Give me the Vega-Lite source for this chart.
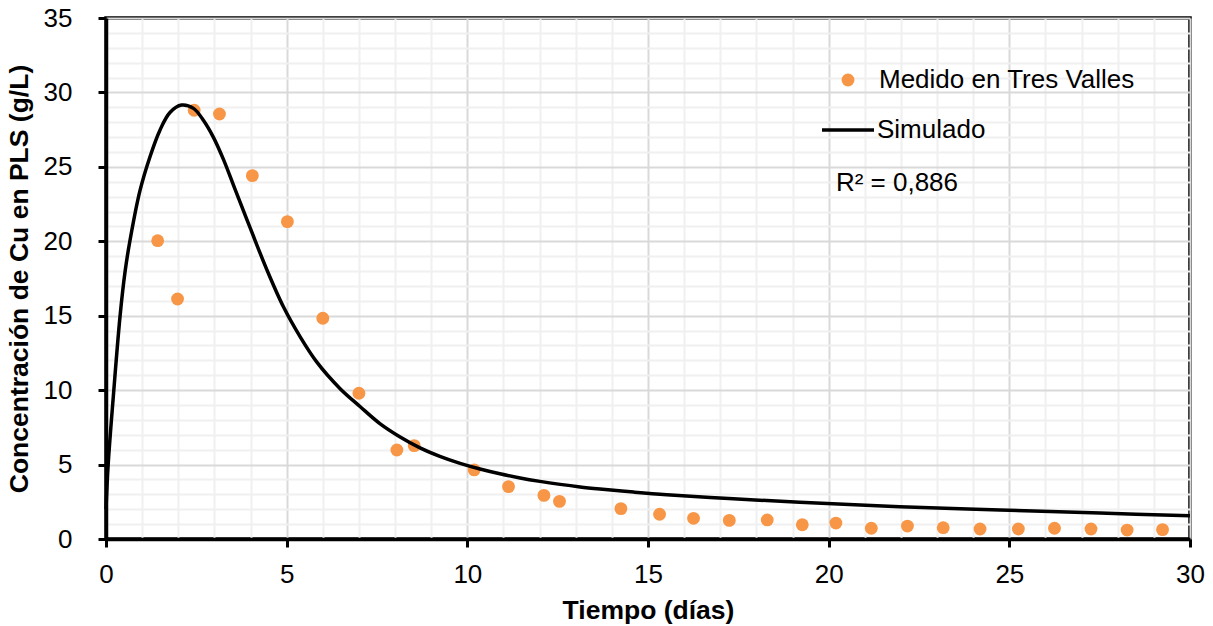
{
  "$schema": "https://vega.github.io/schema/vega-lite/v6.json",
  "width": 1084,
  "height": 521,
  "autosize": {"type": "none"},
  "padding": {"left": 106, "top": 18, "right": 23, "bottom": 87},
  "background": "white",
  "config": {
    "font": "Liberation Sans",
    "view": {"stroke": "black", "strokeWidth": 3.5},
    "axis": {
      "domainColor": "black",
      "domainWidth": 3.5,
      "labelFont": "Liberation Sans",
      "labelFontSize": 26,
      "labelColor": "black",
      "labelFlush": false,
      "labelOverlap": false,
      "labelLimit": 300,
      "tickColor": "black",
      "tickWidth": 3,
      "tickSize": 8,
      "gridWidth": 2,
      "titleFont": "Liberation Sans",
      "titleFontSize": 26.5,
      "titleFontWeight": "bold",
      "titleColor": "black"
    }
  },
  "datasets": {
    "medido": [
      {"t": 1.43, "c": 20.04, "serie": "Medido en Tres Valles"},
      {"t": 1.98, "c": 16.12, "serie": "Medido en Tres Valles"},
      {"t": 2.44, "c": 28.8, "serie": "Medido en Tres Valles"},
      {"t": 3.14, "c": 28.55, "serie": "Medido en Tres Valles"},
      {"t": 4.05, "c": 24.41, "serie": "Medido en Tres Valles"},
      {"t": 5.02, "c": 21.32, "serie": "Medido en Tres Valles"},
      {"t": 6.0, "c": 14.83, "serie": "Medido en Tres Valles"},
      {"t": 7.0, "c": 9.79, "serie": "Medido en Tres Valles"},
      {"t": 8.05, "c": 5.98, "serie": "Medido en Tres Valles"},
      {"t": 8.53, "c": 6.27, "serie": "Medido en Tres Valles"},
      {"t": 10.19, "c": 4.64, "serie": "Medido en Tres Valles"},
      {"t": 11.14, "c": 3.52, "serie": "Medido en Tres Valles"},
      {"t": 12.12, "c": 2.93, "serie": "Medido en Tres Valles"},
      {"t": 12.55, "c": 2.53, "serie": "Medido en Tres Valles"},
      {"t": 14.25, "c": 2.04, "serie": "Medido en Tres Valles"},
      {"t": 15.32, "c": 1.66, "serie": "Medido en Tres Valles"},
      {"t": 16.26, "c": 1.39, "serie": "Medido en Tres Valles"},
      {"t": 17.25, "c": 1.25, "serie": "Medido en Tres Valles"},
      {"t": 18.3, "c": 1.28, "serie": "Medido en Tres Valles"},
      {"t": 19.27, "c": 0.96, "serie": "Medido en Tres Valles"},
      {"t": 20.2, "c": 1.07, "serie": "Medido en Tres Valles"},
      {"t": 21.18, "c": 0.72, "serie": "Medido en Tres Valles"},
      {"t": 22.18, "c": 0.87, "serie": "Medido en Tres Valles"},
      {"t": 23.17, "c": 0.76, "serie": "Medido en Tres Valles"},
      {"t": 24.19, "c": 0.67, "serie": "Medido en Tres Valles"},
      {"t": 25.25, "c": 0.67, "serie": "Medido en Tres Valles"},
      {"t": 26.25, "c": 0.72, "serie": "Medido en Tres Valles"},
      {"t": 27.26, "c": 0.67, "serie": "Medido en Tres Valles"},
      {"t": 28.26, "c": 0.6, "serie": "Medido en Tres Valles"},
      {"t": 29.24, "c": 0.63, "serie": "Medido en Tres Valles"}
    ],
    "simulado": [
      {"t": 0, "c": 2.0, "serie": "Simulado"},
      {"t": 0.06, "c": 5.0, "serie": "Simulado"},
      {"t": 0.2, "c": 9.5, "serie": "Simulado"},
      {"t": 0.39, "c": 15.0, "serie": "Simulado"},
      {"t": 0.53, "c": 18.0, "serie": "Simulado"},
      {"t": 0.66, "c": 20.0, "serie": "Simulado"},
      {"t": 0.94, "c": 23.4, "serie": "Simulado"},
      {"t": 1.22, "c": 25.7, "serie": "Simulado"},
      {"t": 1.49, "c": 27.45, "serie": "Simulado"},
      {"t": 1.77, "c": 28.65, "serie": "Simulado"},
      {"t": 2.09, "c": 29.15, "serie": "Simulado"},
      {"t": 2.42, "c": 28.93, "serie": "Simulado"},
      {"t": 2.69, "c": 28.15, "serie": "Simulado"},
      {"t": 2.97, "c": 27.0, "serie": "Simulado"},
      {"t": 3.25, "c": 25.5, "serie": "Simulado"},
      {"t": 3.57, "c": 23.5, "serie": "Simulado"},
      {"t": 3.99, "c": 20.9, "serie": "Simulado"},
      {"t": 4.45, "c": 18.1, "serie": "Simulado"},
      {"t": 4.91, "c": 15.6, "serie": "Simulado"},
      {"t": 5.37, "c": 13.6, "serie": "Simulado"},
      {"t": 5.83, "c": 11.9, "serie": "Simulado"},
      {"t": 6.48, "c": 10.1, "serie": "Simulado"},
      {"t": 7.03, "c": 8.9, "serie": "Simulado"},
      {"t": 7.58, "c": 7.75, "serie": "Simulado"},
      {"t": 8.14, "c": 6.85, "serie": "Simulado"},
      {"t": 8.69, "c": 6.12, "serie": "Simulado"},
      {"t": 9.24, "c": 5.55, "serie": "Simulado"},
      {"t": 9.8, "c": 5.08, "serie": "Simulado"},
      {"t": 10.35, "c": 4.7, "serie": "Simulado"},
      {"t": 10.9, "c": 4.38, "serie": "Simulado"},
      {"t": 11.46, "c": 4.1, "serie": "Simulado"},
      {"t": 12.01, "c": 3.87, "serie": "Simulado"},
      {"t": 12.57, "c": 3.67, "serie": "Simulado"},
      {"t": 13.12, "c": 3.5, "serie": "Simulado"},
      {"t": 13.67, "c": 3.36, "serie": "Simulado"},
      {"t": 14.6, "c": 3.15, "serie": "Simulado"},
      {"t": 15.52, "c": 2.97, "serie": "Simulado"},
      {"t": 17.36, "c": 2.7, "serie": "Simulado"},
      {"t": 19.2, "c": 2.47, "serie": "Simulado"},
      {"t": 21.97, "c": 2.17, "serie": "Simulado"},
      {"t": 24.74, "c": 1.95, "serie": "Simulado"},
      {"t": 27.51, "c": 1.74, "serie": "Simulado"},
      {"t": 30, "c": 1.57, "serie": "Simulado"}
    ],
    "anotacion": [
      {"t": 20.2, "c": 23.9, "texto": "R² = 0,886"}
    ]
  },
  "encoding": {
    "x": {
      "field": "t",
      "type": "quantitative",
      "scale": {"domain": [0, 30], "nice": false, "zero": false},
      "axis": {
        "title": "Tiempo (días)",
        "titlePadding": 10,
        "values": [0,1,2,3,4,5,6,7,8,9,10,11,12,13,14,15,16,17,18,19,20,21,22,23,24,25,26,27,28,29,30],
        "labelExpr": "datum.value % 5 === 0 ? datum.label : ''",
        "labelPadding": 14,
        "tickOpacity": {"condition": {"test": "datum.value % 5 === 0", "value": 1}, "value": 0},
        "gridColor": {"condition": {"test": "datum.value % 5 === 0", "value": "#d9d9d9"}, "value": "#f0f0f0"}
      }
    },
    "y": {
      "field": "c",
      "type": "quantitative",
      "scale": {"domain": [0, 35], "nice": false, "zero": false},
      "axis": {
        "title": "Concentración de Cu en PLS (g/L)",
        "titlePadding": 10,
        "values": [0,1,2,3,4,5,6,7,8,9,10,11,12,13,14,15,16,17,18,19,20,21,22,23,24,25,26,27,28,29,30,31,32,33,34,35],
        "labelExpr": "datum.value % 5 === 0 ? datum.label : ''",
        "labelPadding": 26,
        "tickOpacity": {"condition": {"test": "datum.value % 5 === 0", "value": 1}, "value": 0},
        "gridColor": {"condition": {"test": "datum.value % 5 === 0", "value": "#d9d9d9"}, "value": "#f0f0f0"}
      }
    }
  },
  "layer": [
    {
      "data": {"name": "medido"},
      "mark": {"type": "circle", "size": 165, "opacity": 1},
      "encoding": {
        "fill": {
          "field": "serie",
          "type": "nominal",
          "scale": {"range": ["#F79646"]},
          "legend": {
            "title": null,
            "orient": "none",
            "legendX": 729,
            "legendY": 49,
            "padding": 0,
            "symbolType": "circle",
            "symbolSize": 165,
            "symbolStrokeWidth": 0,
            "labelFontSize": 26,
            "labelFont": "Liberation Sans",
            "labelColor": "black",
            "labelLimit": 400,
            "labelOffset": 18
          }
        }
      }
    },
    {
      "data": {"name": "simulado"},
      "mark": {"type": "line", "interpolate": "catmull-rom", "strokeWidth": 3.5},
      "encoding": {
        "stroke": {
          "field": "serie",
          "type": "nominal",
          "scale": {"range": ["black"]},
          "legend": {
            "title": null,
            "orient": "none",
            "legendX": 714,
            "legendY": 84,
            "padding": 0,
            "symbolType": "stroke",
            "symbolSize": 2704,
            "symbolStrokeWidth": 3.5,
            "labelFontSize": 26,
            "labelFont": "Liberation Sans",
            "labelColor": "black",
            "labelLimit": 400,
            "labelOffset": 1
          }
        }
      }
    },
    {
      "data": {"name": "anotacion"},
      "mark": {"type": "text", "align": "left", "baseline": "middle", "fontSize": 26, "font": "Liberation Sans", "color": "black"},
      "encoding": {
        "text": {"field": "texto"}
      }
    }
  ]
}
